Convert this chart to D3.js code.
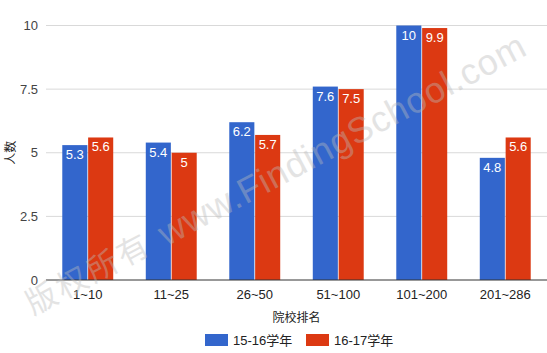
<!DOCTYPE html>
<html>
<head>
<meta charset="utf-8">
<script src="https://cdn.jsdelivr.net/npm/d3@7"></script>
<style>
  body { margin: 0; background: #fff; }
  text { font-family: "Liberation Sans", Arial, "Noto Sans CJK SC", sans-serif; }
</style>
</head>
<body>
<div class="chart"></div>
<script>
var categories = ["1~10", "11~25", "26~50", "51~100", "101~200", "201~286"];
var seriesNames = ["15-16学年", "16-17学年"];
var values1516 = [5.3, 5.4, 6.2, 7.6, 10, 4.8];
var values1617 = [5.6, 5, 5.7, 7.5, 9.9, 5.6];
var yTicks = [0, 2.5, 5, 7.5, 10];
var colors = ["#3366cc", "#dc3912"];

var width = 547, height = 353;
var marginLeft = 46, marginTop = 25.5, plotBottom = 280;

var svg = d3.select(".chart").append("svg")
	.attr("width", width)
	.attr("height", height);

var y = d3.scaleLinear().domain([0, 10]).range([plotBottom, marginTop]);
var x = d3.scaleBand().domain(categories).range([marginLeft, width])
	.paddingInner(0.39).paddingOuter(0.195);
var xSub = d3.scaleBand().domain([0, 1]).range([0, x.bandwidth()]).paddingInner(0.03);

// gridlines
svg.append("g").selectAll("line")
	.data(yTicks.filter(function(d){ return d > 0; }))
	.enter().append("line")
	.attr("x1", marginLeft).attr("x2", width)
	.attr("y1", function(d){ return y(d); })
	.attr("y2", function(d){ return y(d); })
	.style("stroke", "#d9d9d9").style("stroke-width", "1px");

// y labels
svg.append("g").selectAll("text")
	.data(yTicks)
	.enter().append("text")
	.attr("x", 38)
	.attr("y", function(d){ return y(d); })
	.attr("dy", "0.36em")
	.attr("text-anchor", "end")
	.style("font-size", "13px")
	.style("fill", "#444")
	.text(function(d){ return d; });

// bars
var data = categories.map(function(c, i){
	return { key: c, vals: [values1516[i], values1617[i]] };
});
var groups = svg.append("g").selectAll("g")
	.data(data)
	.enter().append("g")
	.attr("transform", function(d){ return "translate(" + x(d.key) + ",0)"; });

groups.each(function(d){
	var g = d3.select(this);
	d.vals.forEach(function(v, j){
		g.append("rect")
			.attr("x", xSub(j))
			.attr("y", y(v))
			.attr("width", xSub.bandwidth())
			.attr("height", y(0) - y(v))
			.style("fill", colors[j]);
		g.append("text")
			.attr("x", xSub(j) + xSub.bandwidth() / 2)
			.attr("y", y(v) + 14)
			.attr("text-anchor", "middle")
			.style("font-size", "13px")
			.style("fill", "#fff")
			.text(v);
	});
});

// baseline
svg.append("line")
	.attr("x1", marginLeft).attr("x2", width)
	.attr("y1", y(0)).attr("y2", y(0))
	.style("stroke", "#333").style("stroke-width", "1px");

// x labels
svg.append("g").selectAll("text")
	.data(categories)
	.enter().append("text")
	.attr("x", function(d){ return x(d) + x.bandwidth() / 2; })
	.attr("y", 299)
	.attr("text-anchor", "middle")
	.style("font-size", "13px")
	.style("fill", "#222")
	.text(function(d){ return d; });

// axis titles
svg.append("text")
	.attr("x", (marginLeft + width) / 2)
	.attr("y", 322)
	.attr("text-anchor", "middle")
	.style("font-size", "12px")
	.style("fill", "#222")
	.text("院校排名");

svg.append("text")
	.attr("transform", "translate(11," + (marginTop + plotBottom) / 2 + ") rotate(-90)")
	.attr("text-anchor", "middle")
	.attr("dy", "0.35em")
	.style("font-size", "12px")
	.style("fill", "#222")
	.text("人数");

// legend
var legend = svg.append("g").selectAll("g")
	.data(seriesNames)
	.enter().append("g")
	.attr("transform", function(d, i){ return "translate(" + (205 + i * 101) + ",334)"; });
legend.append("rect")
	.attr("width", 23).attr("height", 12)
	.style("fill", function(d, i){ return colors[i]; });
legend.append("text")
	.attr("x", 28).attr("y", 6).attr("dy", "0.36em")
	.style("font-size", "13px")
	.style("fill", "#222")
	.text(function(d){ return d; });

// watermark
var wm = svg.append("g")
	.attr("transform", "translate(28,306) rotate(-28)")
	.style("fill", "#bbb")
	.style("opacity", 0.4);
wm.append("text")
	.attr("dy", "0.35em")
	.attr("textLength", 134)
	.attr("lengthAdjust", "spacing")
	.style("font-size", "31px")
	.text("版权所有");
wm.append("text")
	.attr("x", 150)
	.attr("dy", "0.35em")
	.attr("textLength", 410)
	.attr("lengthAdjust", "spacing")
	.style("font-size", "36px")
	.text("www.FindingSchool.com");
</script>
</body>
</html>
